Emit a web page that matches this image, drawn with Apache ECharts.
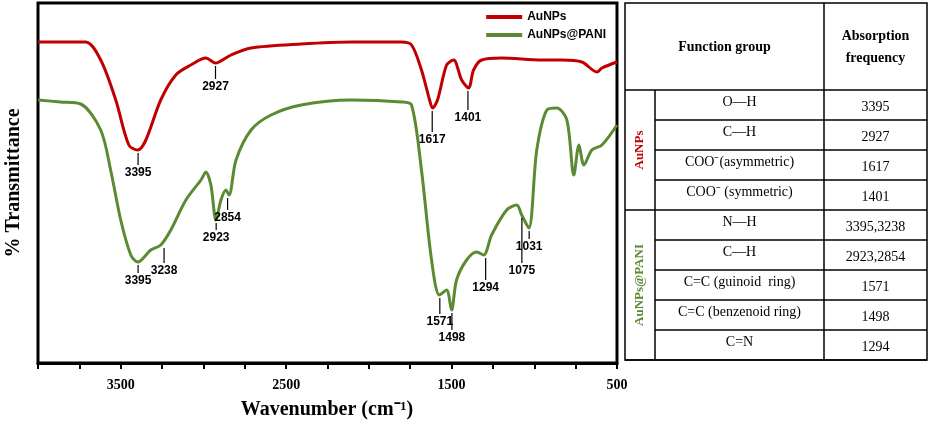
<!DOCTYPE html><html><head><meta charset="utf-8">
<script src="https://cdn.jsdelivr.net/npm/echarts@6/dist/echarts.min.js"></script>
<style>html,body{margin:0;padding:0;background:#fff}#c{width:929px;height:422px}</style></head><body><div id="c"></div>
<script>
const auNPs=[[4000,321],[3712,321],[3621,303],[3530,263],[3451,218],[3397,213],[3348,223],[3258,263],[3167,288],[3076,298],[2985,305],[2927,300],[2906,301],[2833,308],[2712,315],[2409,319],[2106,321],[1803,321],[1742,318],[1682,293],[1633,263],[1615,255],[1585,263],[1530,298],[1488,303],[1439,283],[1397,275],[1367,293],[1318,303],[1197,305],[955,303],[833,303],[712,301],[621,291],[591,295],[500,301]];
const auPANI=[[4000,263],[3864,261],[3742,259],[3621,233],[3561,193],[3500,143],[3439,108],[3397,101],[3318,113],[3258,118],[3197,133],[3106,163],[3015,183],[2985,191],[2955,178],[2924,143],[2894,163],[2864,173],[2845,168],[2803,203],[2712,233],[2591,248],[2409,258],[2106,263],[1803,261],[1742,258],[1682,193],[1621,103],[1573,68],[1530,73],[1500,53],[1470,83],[1409,103],[1348,111],[1306,108],[1258,128],[1167,153],[1106,158],[1076,148],[1033,135],[985,213],[924,253],[864,255],[803,243],[761,188],[730,218],[700,198],[652,213],[591,218],[500,238]];
const redPeaks=[[3395,213,190],[2927,300,276],[1617,255,223],[1401,275,245]];
const greenPeaks=[[3395,101,82],[3238,118,92],[2923,143,125],[2854,168,145],[1571,68,41],[1498,53,25],[1294,108,75],[1075,148,92],[1031,135,116]];
const xTicks=[3500,2500,1500,500];
const tableHeader=['Function group','Absorption\nfrequency'];
const groupNames=['AuNPs','AuNPs@PANI'];
const groupRows=[[['O—H','3395'],['C—H','2927'],['COO⁻(asymmetric)','1617'],['COO⁻ (symmetric)','1401']],
[['N—H','3395,3238'],['C—H','2923,2854'],['C=C (guinoid  ring)','1571'],['C=C (benzenoid ring)','1498'],['C=N','1294']]];
const RED='#c00000',GREEN='#5b8a32';
function peakSeries(peaks){
  return {type:'custom',data:peaks,z:5,renderItem:(p,api)=>{
    const a=api.coord([api.value(0),api.value(1)]),b=api.coord([api.value(0),api.value(2)]);
    return {type:'group',children:[
      {type:'line',shape:{x1:a[0],y1:a[1]+3,x2:b[0],y2:b[1]-8},style:{stroke:'#000',lineWidth:1.2}},
      {type:'text',style:{x:b[0],y:b[1],text:String(api.value(0)),fill:'#000',font:'bold 12px "Liberation Sans"',align:'center',verticalAlign:'middle'}}]};
  }};
}
const g=[];
const TL=625,TR=927,C1=655,C2=824,TT=3,HB=90,RH=30;
const ts=(x,y,t,o)=>({type:'text',style:Object.assign({x,y,text:t,fill:'#000',font:'14px "Liberation Serif"',align:'center',verticalAlign:'middle'},o||{})});
g.push({type:'rect',shape:{x:TL,y:TT,width:TR-TL,height:357},style:{fill:'none',stroke:'#000',lineWidth:1.5}});
g.push({type:'line',shape:{x1:TL,y1:HB,x2:TR,y2:HB},style:{stroke:'#000',lineWidth:1.5}});
g.push({type:'line',shape:{x1:C2,y1:TT,x2:C2,y2:360},style:{stroke:'#000',lineWidth:1.5}});
g.push({type:'line',shape:{x1:C1,y1:HB,x2:C1,y2:360},style:{stroke:'#000',lineWidth:1.5}});
g.push(ts((TL+C2)/2,47,tableHeader[0],{font:'bold 14px "Liberation Serif"'}));
g.push(ts((C2+TR)/2,47,tableHeader[1],{font:'bold 14px "Liberation Serif"',lineHeight:22}));
let y=HB;
groupRows.forEach((rows,gi)=>{
  const y0=y;
  rows.forEach((r,ri)=>{
    g.push(ts((C1+C2)/2,y+12,r[0]));g.push(ts((C2+TR)/2,y+17,r[1]));
    y+=RH;
    g.push({type:'line',shape:{x1:(ri===rows.length-1?TL:C1),y1:y,x2:TR,y2:y},style:{stroke:'#000',lineWidth:1.5}});
  });
  g.push({type:'text',x:(TL+C1)/2,y:(y0+y)/2,rotation:Math.PI/2,style:{x:0,y:0,text:groupNames[gi],fill:gi?GREEN:RED,font:'bold 13px "Liberation Serif"',align:'center',verticalAlign:'middle'}});
});
g.push({type:'text',x:14,y:183,rotation:Math.PI/2,style:{x:0,y:0,text:'% Transmittance',fill:'#000',font:'bold 20px "Liberation Serif"',align:'center',verticalAlign:'middle'}});
g.push({type:'text',style:{x:327,y:410,text:'Wavenumber (cm⁻¹)',fill:'#000',font:'bold 20px "Liberation Serif"',align:'center',verticalAlign:'middle'}});
const chart=echarts.init(document.getElementById('c'));
chart.setOption({animation:false,
 grid:{left:38,right:312,top:3,height:360,show:true,borderColor:'#000',borderWidth:3,backgroundColor:'transparent'},
 legend:{right:318,top:6,orient:'vertical',itemGap:6,itemWidth:36,itemHeight:4,icon:'rect',textStyle:{fontWeight:'bold',fontSize:12,fontFamily:'Liberation Sans',color:'#000'},data:['AuNPs','AuNPs@PANI']},
 xAxis:{type:'value',inverse:true,min:500,max:4000,interval:250,
  axisLine:{lineStyle:{color:'#000',width:3}},axisTick:{inside:false,length:6,lineStyle:{color:'#000',width:2}},
  splitLine:{show:false},axisLabel:{margin:15,fontFamily:'Liberation Serif',fontWeight:'bold',fontSize:14,color:'#000',formatter:v=>xTicks.includes(v)?String(v):''}},
 yAxis:{type:'value',min:0,max:360,show:false},
 series:[
  {name:'AuNPs',type:'line',data:auNPs,smooth:0.3,symbol:'none',lineStyle:{color:RED,width:3},itemStyle:{color:RED}},
  {name:'AuNPs@PANI',type:'line',data:auPANI,smooth:0.3,symbol:'none',lineStyle:{color:GREEN,width:3},itemStyle:{color:GREEN}},
  peakSeries(redPeaks),peakSeries(greenPeaks)],
 graphic:g});
</script></body></html>
